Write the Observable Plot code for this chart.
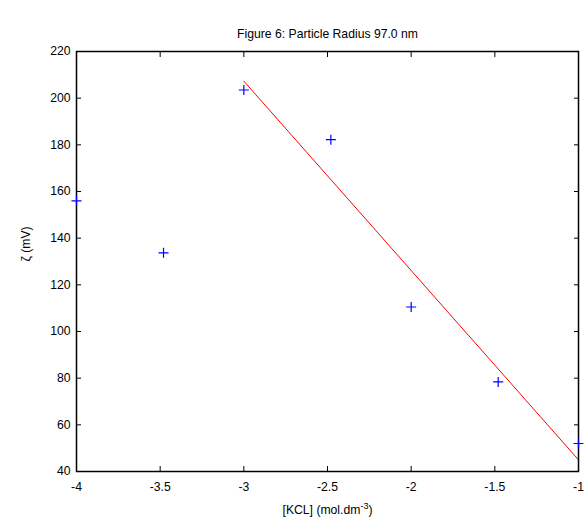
<!DOCTYPE html>
<html><head><meta charset="utf-8">
<script src="https://cdn.jsdelivr.net/npm/d3@7"></script>
<script src="https://cdn.jsdelivr.net/npm/@observablehq/plot@0.6"></script>
<style>body{margin:0;background:#fff;} svg{font-family:"Liberation Sans",Arial,sans-serif;}</style>
</head><body><div id="chart"></div>
<script>
const title = "Figure 6: Particle Radius 97.0 nm";
const xLabel = "[KCL] (mol.dm-3)";
const yLabel = "ζ (mV)";
const logKCl = [-4, -3.48, -3, -2.48, -2, -1.48, -1];
const zeta = [156, 133.7, 203.5, 182.2, 110.5, 78.4, 52];
const fitX = [-3, -1];
const fitY = [207.3, 45];
const xTicks = [-4, -3.5, -3, -2.5, -2, -1.5, -1];
const yTicks = [40, 60, 80, 100, 120, 140, 160, 180, 200, 220];

const pts = logKCl.map((x, i) => ({x, y: zeta[i]}));
const fit = fitX.map((x, i) => ({x, y: fitY[i]}));
const plus = {draw(ctx, size) { const r = 5; ctx.moveTo(-r, 0); ctx.lineTo(r, 0); ctx.moveTo(0, -r); ctx.lineTo(0, r); }};

const chart = Plot.plot({
  width: 587, height: 518,
  marginLeft: 76, marginRight: 9, marginTop: 51, marginBottom: 47,
  style: {fontSize: "12px", fontFamily: "Liberation Sans, Arial, sans-serif", color: "black", background: "white"},
  x: {domain: [-4, -1], ticks: xTicks},
  y: {domain: [40, 220], ticks: yTicks},
  marks: [
    Plot.axisX({anchor: "bottom", ticks: xTicks, tickSize: -5, tickPadding: 16, tickFormat: d => String(d), label: null, fontSize: 12.2}),
    Plot.axisX({anchor: "top", ticks: xTicks, tickSize: -5, tickFormat: () => "", label: null}),
    Plot.axisY({anchor: "left", ticks: yTicks, tickSize: -5, tickPadding: 11, tickFormat: d => String(d), label: null, fontSize: 12.2}),
    Plot.axisY({anchor: "right", ticks: yTicks, tickSize: -5, tickFormat: () => "", label: null}),
    Plot.line(fit, {x: "x", y: "y", stroke: "red", strokeWidth: 1}),
    Plot.frame({stroke: "black", strokeWidth: 1.5}),
    Plot.dot(pts, {x: "x", y: "y", symbol: plus, stroke: "blue", fill: "none", strokeWidth: 1.2, r: 5}),
    Plot.text([title], {frameAnchor: "top", dy: -22, fontSize: 12.2, fill: "black"}),
    Plot.text([xLabel], {frameAnchor: "bottom", dy: 42, fontSize: 12.2, fill: "black", className: "xlab"}),
    Plot.text([yLabel], {frameAnchor: "left", dx: -50, rotate: -90, fontSize: 12.2, fill: "black"})
  ]
});
document.getElementById("chart").appendChild(chart);
// superscript for dm^-3
chart.querySelectorAll(".xlab text").forEach(t => {
  t.textContent = "";
  const ns = "http://www.w3.org/2000/svg";
  const a = document.createElementNS(ns, "tspan"); a.textContent = "[KCL] (mol.dm";
  const b = document.createElementNS(ns, "tspan"); b.textContent = "-3"; b.setAttribute("dy", "-5"); b.setAttribute("font-size", "9");
  const c = document.createElementNS(ns, "tspan"); c.textContent = ")"; c.setAttribute("dy", "5");
  t.append(a, b, c);
});
</script></body></html>
